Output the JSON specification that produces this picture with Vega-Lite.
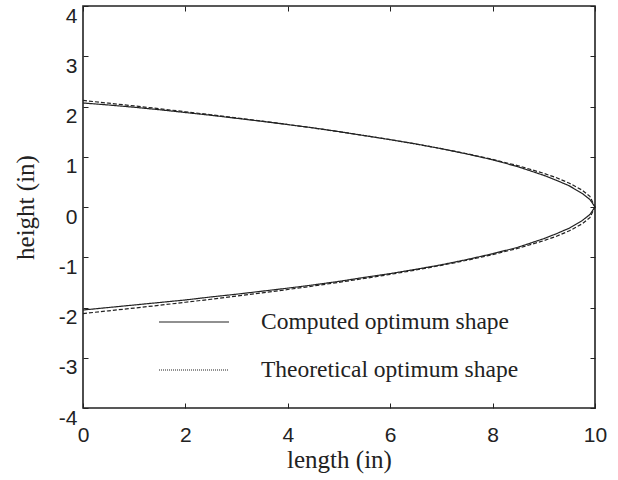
{
  "$schema": "https://vega.github.io/schema/vega-lite/v6.json",
  "autosize": {"type": "none"},
  "padding": {"left": 83, "top": 6, "right": 23, "bottom": 72},
  "width": 512,
  "height": 402,
  "background": "white",
  "config": {
    "view": {"stroke": "#222", "strokeWidth": 1.6},
    "axis": {
      "grid": false,
      "domain": false,
      "tickColor": "#222",
      "tickWidth": 1,
      "labelFont": "Liberation Sans",
      "labelFontSize": 21,
      "labelColor": "#222",
      "labelFlush": false,
      "titleFont": "Liberation Serif",
      "titleFontSize": 25,
      "titleFontWeight": "normal",
      "titleColor": "#222"
    }
  },
  "data": {
    "values": [
      {"x": 0, "y": 2.07, "series": "Computed optimum shape", "branch": "upper"},
      {"x": 0.5, "y": 2.03, "series": "Computed optimum shape", "branch": "upper"},
      {"x": 1, "y": 1.985, "series": "Computed optimum shape", "branch": "upper"},
      {"x": 1.5, "y": 1.935, "series": "Computed optimum shape", "branch": "upper"},
      {"x": 2, "y": 1.88, "series": "Computed optimum shape", "branch": "upper"},
      {"x": 2.5, "y": 1.825, "series": "Computed optimum shape", "branch": "upper"},
      {"x": 3, "y": 1.765, "series": "Computed optimum shape", "branch": "upper"},
      {"x": 3.5, "y": 1.705, "series": "Computed optimum shape", "branch": "upper"},
      {"x": 4, "y": 1.64, "series": "Computed optimum shape", "branch": "upper"},
      {"x": 4.5, "y": 1.575, "series": "Computed optimum shape", "branch": "upper"},
      {"x": 5, "y": 1.5, "series": "Computed optimum shape", "branch": "upper"},
      {"x": 5.5, "y": 1.42, "series": "Computed optimum shape", "branch": "upper"},
      {"x": 6, "y": 1.34, "series": "Computed optimum shape", "branch": "upper"},
      {"x": 6.5, "y": 1.255, "series": "Computed optimum shape", "branch": "upper"},
      {"x": 7, "y": 1.16, "series": "Computed optimum shape", "branch": "upper"},
      {"x": 7.5, "y": 1.055, "series": "Computed optimum shape", "branch": "upper"},
      {"x": 8, "y": 0.94, "series": "Computed optimum shape", "branch": "upper"},
      {"x": 8.5, "y": 0.8, "series": "Computed optimum shape", "branch": "upper"},
      {"x": 9, "y": 0.63, "series": "Computed optimum shape", "branch": "upper"},
      {"x": 9.25, "y": 0.53, "series": "Computed optimum shape", "branch": "upper"},
      {"x": 9.5, "y": 0.42, "series": "Computed optimum shape", "branch": "upper"},
      {"x": 9.75, "y": 0.27, "series": "Computed optimum shape", "branch": "upper"},
      {"x": 9.9, "y": 0.15, "series": "Computed optimum shape", "branch": "upper"},
      {"x": 10, "y": 0, "series": "Computed optimum shape", "branch": "upper"},
      {"x": 0, "y": -2.05, "series": "Computed optimum shape", "branch": "lower"},
      {"x": 0.5, "y": -2.0, "series": "Computed optimum shape", "branch": "lower"},
      {"x": 1, "y": -1.95, "series": "Computed optimum shape", "branch": "lower"},
      {"x": 1.5, "y": -1.9, "series": "Computed optimum shape", "branch": "lower"},
      {"x": 2, "y": -1.85, "series": "Computed optimum shape", "branch": "lower"},
      {"x": 2.5, "y": -1.79, "series": "Computed optimum shape", "branch": "lower"},
      {"x": 3, "y": -1.735, "series": "Computed optimum shape", "branch": "lower"},
      {"x": 3.5, "y": -1.675, "series": "Computed optimum shape", "branch": "lower"},
      {"x": 4, "y": -1.615, "series": "Computed optimum shape", "branch": "lower"},
      {"x": 4.5, "y": -1.55, "series": "Computed optimum shape", "branch": "lower"},
      {"x": 5, "y": -1.48, "series": "Computed optimum shape", "branch": "lower"},
      {"x": 5.5, "y": -1.4, "series": "Computed optimum shape", "branch": "lower"},
      {"x": 6, "y": -1.325, "series": "Computed optimum shape", "branch": "lower"},
      {"x": 6.5, "y": -1.24, "series": "Computed optimum shape", "branch": "lower"},
      {"x": 7, "y": -1.15, "series": "Computed optimum shape", "branch": "lower"},
      {"x": 7.5, "y": -1.045, "series": "Computed optimum shape", "branch": "lower"},
      {"x": 8, "y": -0.93, "series": "Computed optimum shape", "branch": "lower"},
      {"x": 8.5, "y": -0.8, "series": "Computed optimum shape", "branch": "lower"},
      {"x": 9, "y": -0.63, "series": "Computed optimum shape", "branch": "lower"},
      {"x": 9.25, "y": -0.53, "series": "Computed optimum shape", "branch": "lower"},
      {"x": 9.5, "y": -0.42, "series": "Computed optimum shape", "branch": "lower"},
      {"x": 9.75, "y": -0.27, "series": "Computed optimum shape", "branch": "lower"},
      {"x": 9.9, "y": -0.15, "series": "Computed optimum shape", "branch": "lower"},
      {"x": 10, "y": 0, "series": "Computed optimum shape", "branch": "lower"},
      {"x": 0, "y": 2.12, "series": "Theoretical optimum shape", "branch": "upper"},
      {"x": 0.5, "y": 2.066, "series": "Theoretical optimum shape", "branch": "upper"},
      {"x": 1, "y": 2.011, "series": "Theoretical optimum shape", "branch": "upper"},
      {"x": 1.5, "y": 1.955, "series": "Theoretical optimum shape", "branch": "upper"},
      {"x": 2, "y": 1.896, "series": "Theoretical optimum shape", "branch": "upper"},
      {"x": 2.5, "y": 1.836, "series": "Theoretical optimum shape", "branch": "upper"},
      {"x": 3, "y": 1.774, "series": "Theoretical optimum shape", "branch": "upper"},
      {"x": 3.5, "y": 1.709, "series": "Theoretical optimum shape", "branch": "upper"},
      {"x": 4, "y": 1.642, "series": "Theoretical optimum shape", "branch": "upper"},
      {"x": 4.5, "y": 1.572, "series": "Theoretical optimum shape", "branch": "upper"},
      {"x": 5, "y": 1.499, "series": "Theoretical optimum shape", "branch": "upper"},
      {"x": 5.5, "y": 1.422, "series": "Theoretical optimum shape", "branch": "upper"},
      {"x": 6, "y": 1.341, "series": "Theoretical optimum shape", "branch": "upper"},
      {"x": 6.5, "y": 1.254, "series": "Theoretical optimum shape", "branch": "upper"},
      {"x": 7, "y": 1.161, "series": "Theoretical optimum shape", "branch": "upper"},
      {"x": 7.5, "y": 1.06, "series": "Theoretical optimum shape", "branch": "upper"},
      {"x": 8, "y": 0.948, "series": "Theoretical optimum shape", "branch": "upper"},
      {"x": 8.5, "y": 0.821, "series": "Theoretical optimum shape", "branch": "upper"},
      {"x": 9, "y": 0.67, "series": "Theoretical optimum shape", "branch": "upper"},
      {"x": 9.25, "y": 0.581, "series": "Theoretical optimum shape", "branch": "upper"},
      {"x": 9.5, "y": 0.474, "series": "Theoretical optimum shape", "branch": "upper"},
      {"x": 9.75, "y": 0.335, "series": "Theoretical optimum shape", "branch": "upper"},
      {"x": 9.9, "y": 0.212, "series": "Theoretical optimum shape", "branch": "upper"},
      {"x": 10, "y": 0, "series": "Theoretical optimum shape", "branch": "upper"},
      {"x": 0, "y": -2.12, "series": "Theoretical optimum shape", "branch": "lower"},
      {"x": 0.5, "y": -2.066, "series": "Theoretical optimum shape", "branch": "lower"},
      {"x": 1, "y": -2.011, "series": "Theoretical optimum shape", "branch": "lower"},
      {"x": 1.5, "y": -1.955, "series": "Theoretical optimum shape", "branch": "lower"},
      {"x": 2, "y": -1.896, "series": "Theoretical optimum shape", "branch": "lower"},
      {"x": 2.5, "y": -1.836, "series": "Theoretical optimum shape", "branch": "lower"},
      {"x": 3, "y": -1.774, "series": "Theoretical optimum shape", "branch": "lower"},
      {"x": 3.5, "y": -1.709, "series": "Theoretical optimum shape", "branch": "lower"},
      {"x": 4, "y": -1.642, "series": "Theoretical optimum shape", "branch": "lower"},
      {"x": 4.5, "y": -1.572, "series": "Theoretical optimum shape", "branch": "lower"},
      {"x": 5, "y": -1.499, "series": "Theoretical optimum shape", "branch": "lower"},
      {"x": 5.5, "y": -1.422, "series": "Theoretical optimum shape", "branch": "lower"},
      {"x": 6, "y": -1.341, "series": "Theoretical optimum shape", "branch": "lower"},
      {"x": 6.5, "y": -1.254, "series": "Theoretical optimum shape", "branch": "lower"},
      {"x": 7, "y": -1.161, "series": "Theoretical optimum shape", "branch": "lower"},
      {"x": 7.5, "y": -1.06, "series": "Theoretical optimum shape", "branch": "lower"},
      {"x": 8, "y": -0.948, "series": "Theoretical optimum shape", "branch": "lower"},
      {"x": 8.5, "y": -0.821, "series": "Theoretical optimum shape", "branch": "lower"},
      {"x": 9, "y": -0.67, "series": "Theoretical optimum shape", "branch": "lower"},
      {"x": 9.25, "y": -0.581, "series": "Theoretical optimum shape", "branch": "lower"},
      {"x": 9.5, "y": -0.474, "series": "Theoretical optimum shape", "branch": "lower"},
      {"x": 9.75, "y": -0.335, "series": "Theoretical optimum shape", "branch": "lower"},
      {"x": 9.9, "y": -0.212, "series": "Theoretical optimum shape", "branch": "lower"},
      {"x": 10, "y": 0, "series": "Theoretical optimum shape", "branch": "lower"}
    ]
  },
  "layer": [
    {
      "mark": {"type": "line", "color": "#222", "strokeWidth": 1.2},
      "encoding": {
        "x": {
          "field": "x",
          "type": "quantitative",
          "scale": {"domain": [0, 10], "nice": false},
          "axis": {
            "title": "length (in)",
            "values": [0, 2, 4, 6, 8, 10],
            "tickSize": -5,
            "labelPadding": 21,
            "titlePadding": 2
          }
        },
        "y": {
          "field": "y",
          "type": "quantitative",
          "scale": {"domain": [-4, 4], "nice": false},
          "axis": {
            "title": "height (in)",
            "values": [-4, -3, -2, -1, 0, 1, 2, 3, 4],
            "labelExpr": "datum.value < 0 ? '-' + abs(datum.value) : '' + datum.value",
            "tickSize": -5,
            "labelPadding": 11,
            "labelOffset": 10,
            "titlePadding": 20
          }
        },
        "detail": {"field": "branch"},
        "strokeDash": {
          "field": "series",
          "type": "nominal",
          "scale": {"range": [[1, 0], [4, 2]]},
          "legend": null
        }
      }
    },
    {
      "mark": {"type": "line", "color": "#222", "strokeWidth": 1.2, "strokeOpacity": 0},
      "encoding": {
        "x": {
          "field": "x",
          "type": "quantitative",
          "axis": {
            "orient": "top",
            "title": null,
            "labels": false,
            "values": [0, 2, 4, 6, 8, 10],
            "tickSize": -5
          }
        },
        "y": {
          "field": "y",
          "type": "quantitative",
          "axis": {
            "orient": "right",
            "title": null,
            "labels": false,
            "values": [-4, -3, -2, -1, 0, 1, 2, 3, 4],
            "tickSize": -5
          }
        },
        "detail": {"field": "branch"},
        "strokeDash": {
          "field": "series",
          "type": "nominal",
          "scale": {"range": [[1, 0], [1, 1]]},
          "legend": {
            "title": null,
            "orient": "none",
            "legendX": 75,
            "legendY": 280,
            "symbolType": "stroke",
            "symbolSize": 4900,
            "symbolStrokeColor": "#222",
            "symbolStrokeWidth": 1.2,
            "symbolOpacity": 1,
            "labelFont": "Liberation Serif",
            "labelFontSize": 23.5,
            "labelColor": "#222",
            "labelLimit": 0,
            "labelOffset": 31,
            "rowPadding": 0,
            "padding": 0,
            "encode": {"symbols": {"update": {"strokeOpacity": {"value": 1}}}}
          }
        }
      }
    }
  ],
  "resolve": {
    "scale": {"strokeDash": "independent"},
    "axis": {"x": "independent", "y": "independent"},
    "legend": {"strokeDash": "independent"}
  }
}
